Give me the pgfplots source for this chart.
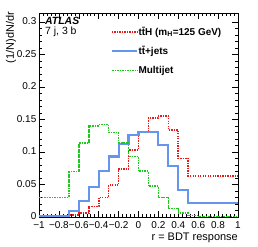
\documentclass[border=0pt]{standalone}
\usepackage{fontspec}
\setmainfont{Liberation Sans}
\usepackage{pgfplots}
\usepackage{pgfplotstable}
\pgfplotsset{compat=1.18}
\definecolor{hred}{RGB}{235,25,25}
\definecolor{hblue}{RGB}{100,150,240}
\definecolor{hgreen}{RGB}{30,200,30}

\pgfplotstableread{
x y
-1.0 0.0005
-0.9 0.0005
-0.8 0.001
-0.7 0.003
-0.6 0.006
-0.5 0.016
-0.4 0.030
-0.3 0.049
-0.2 0.074
-0.1 0.103
0.0 0.131
0.1 0.152
0.2 0.155
0.3 0.134
0.4 0.090
0.5 0.063
0.6 0.063
0.7 0.063
0.8 0.063
0.9 0.063
1.0 0.063
}\tthtab

\pgfplotstableread{
x y
-1.0 0.001
-0.9 0.001
-0.8 0.002
-0.7 0.009
-0.6 0.025
-0.5 0.046
-0.4 0.071
-0.3 0.093
-0.2 0.112
-0.1 0.126
0.0 0.131
0.1 0.131
0.2 0.111
0.3 0.078
0.4 0.041
0.5 0.022
0.6 0.022
0.7 0.022
0.8 0.022
0.9 0.022
1.0 0.022
}\ttjtab

\pgfplotstableread{
x y
-1.0 0.030
-0.9 0.030
-0.8 0.030
-0.7 0.070
-0.6 0.114
-0.5 0.140
-0.4 0.142
-0.3 0.130
-0.2 0.114
-0.1 0.093
0.0 0.071
0.1 0.048
0.2 0.030
0.3 0.013
0.4 0.006
0.5 0.002
0.6 0.001
0.7 0.001
0.8 0.0005
0.9 0.0003
1.0 0.0003
}\mjtab

\begin{document}
\begin{tikzpicture}
\useasboundingbox (-39bp,-30bp) rectangle (219bp,217bp);
\begin{axis}[
  at={(0,0)}, anchor=south west,
  scale only axis, width=199bp, height=204bp,
  xmin=-1, xmax=1, ymin=0, ymax=0.3138,
  xtick={-1,-0.8,-0.6,-0.4,-0.2,0,0.2,0.4,0.6,0.8,1},
  xticklabels={−1,−0.8,−0.6,−0.4,−0.2,0,0.2,0.4,0.6,0.8,1},
  ytick={0,0.05,0.1,0.15,0.2,0.25,0.3},
  yticklabels={0,0.05,0.1,0.15,0.2,0.25,0.3},
  minor x tick num=4, minor y tick num=4,
  tick align=inside,
  major tick length=6bp, minor tick length=3bp,
  tick style={black, line width=0.5pt},
  axis line style={black, line width=0.6pt},
  ticklabel style={font=\fontsize{10}{11}\selectfont, text height=7.2bp, text depth=0pt},
  xticklabel style={inner xsep=1pt, inner ysep=0pt, yshift=-4bp},
  yticklabel style={inner xsep=2.5pt, inner ysep=0pt, yshift=0.8bp},
  xlabel={r = BDT response},
  ylabel={(1/N)dN/dr},
  label style={font=\fontsize{11}{12}\selectfont},
  xlabel style={at={(axis description cs:1,-0.1)}, anchor=east, inner sep=0pt},
  ylabel style={at={(axis description cs:-0.14,1.005)}, anchor=east, inner sep=0pt},
  legend cell align=left,
  legend image code/.code={\draw[#1] (0bp,0bp) -- (25bp,0bp);},
  legend style={draw=none, fill=none, at={(axis description cs:0.345,0.945)}, anchor=north west,
    font=\bfseries\fontsize{10}{11}\selectfont, row sep=9bp,
    nodes={inner sep=0.5pt},
    /tikz/every even column/.append style={column sep=9bp}},
  const plot mark left,
  no markers,
]
\addplot[hred, line width=1.7pt, dash pattern=on 1.4pt off 1.1pt] table[x=x,y=y]{\tthtab};
\addlegendentry{t\={t}H (m\textsubscript{H}=125 GeV)}
\addplot[hblue, line width=2.2pt] table[x=x,y=y]{\ttjtab};
\addlegendentry{t\={t}+jets}
\addplot[hgreen, line width=1.6pt, dash pattern=on 2.2pt off 1pt on 0.8pt off 1pt] table[x=x,y=y]{\mjtab};
\addlegendentry{Multijet}
\node[anchor=north west, inner sep=0pt, align=left, font=\fontsize{10.5}{10}\selectfont] at (axis description cs:0.03,0.98) {\textbf{\textit{ATLAS}}\\[0pt]7 j, 3 b};
\end{axis}
\end{tikzpicture}
\end{document}
